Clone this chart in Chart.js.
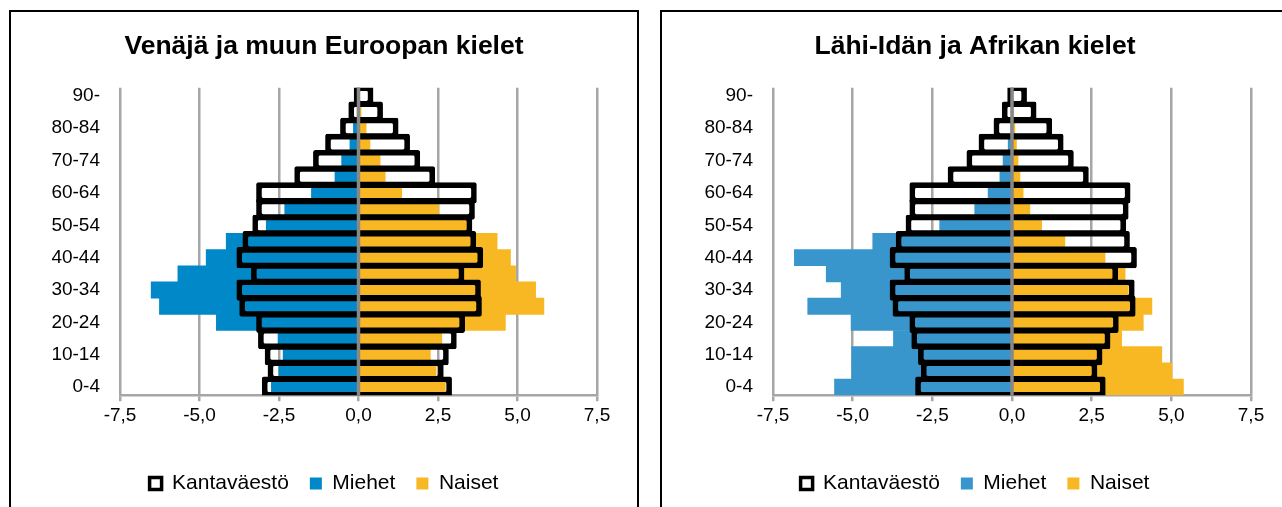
<!DOCTYPE html>
<html lang="fi">
<head>
<meta charset="utf-8">
<script src="https://cdn.jsdelivr.net/npm/chart.js@4.4.1/dist/chart.umd.min.js"></script>
<style>
  html, body { margin: 0; padding: 0; background: #fff; overflow: hidden; }
  body { width: 1282px; height: 507px; position: relative; }
  .kehys { position: absolute; top: 10px; width: 626px; height: 520px; border: 2px solid #000; }
  #kehys1 { left: 9px; }
  #kehys2 { left: 660px; }
  canvas { display: block; }
</style>
</head>
<body>
<div class="kehys" id="kehys1"><canvas id="euroChart" width="626" height="495"></canvas></div>
<div class="kehys" id="kehys2"><canvas id="afrChart" width="626" height="495"></canvas></div>
<script>
// Ikäryhmät alhaalta ylös
var ikaryhmat = ['0-4', '5-9', '10-14', '15-19', '20-24', '25-29', '30-34', '35-39', '40-44', '45-49',
                 '50-54', '55-59', '60-64', '65-69', '70-74', '75-79', '80-84', '85-89', '90-'];

// Kantaväestö (sama molemmissa kuvissa), % väestöstä
var kantaMiehet = [-2.96, -2.78, -2.87, -3.08, -3.14, -3.67, -3.76, -3.30, -3.76, -3.57,
                   -3.26, -3.14, -3.14, -1.94, -1.35, -0.97, -0.50, -0.24, -0.07];
var kantaNaiset = [2.86, 2.60, 2.76, 3.01, 3.27, 3.80, 3.77, 3.25, 3.84, 3.62,
                   3.50, 3.58, 3.64, 2.33, 1.86, 1.54, 1.18, 0.69, 0.39];

// Venäjä ja muun Euroopan kielet
var euroMiehet = [-2.74, -2.50, -2.37, -2.53, -4.47, -6.26, -6.52, -5.68, -4.79, -4.16,
                  -2.90, -2.32, -1.48, -0.74, -0.53, -0.27, -0.16, -0.04, -0.01];
var euroNaiset = [2.73, 2.44, 2.26, 2.62, 4.62, 5.83, 5.57, 4.94, 4.78, 4.36,
                  3.43, 2.52, 1.36, 0.84, 0.68, 0.36, 0.24, 0.08, 0.02];

// Lähi-Idän ja Afrikan kielet
var afrMiehet = [-5.57, -5.03, -5.03, -3.72, -5.05, -6.41, -5.36, -5.83, -6.83, -4.37,
                 -2.27, -1.17, -0.75, -0.38, -0.28, -0.12, -0.02, 0, 0];
var afrNaiset = [5.38, 5.02, 4.70, 3.44, 4.12, 4.39, 3.65, 3.55, 2.92, 1.66,
                 0.93, 0.56, 0.35, 0.25, 0.19, 0.14, 0.09, 0.02, 0];

var xTikit = [-7.5, -5, -2.5, 0, 2.5, 5, 7.5];

Chart.defaults.font.family = "'Liberation Sans', Arial, sans-serif";
Chart.defaults.color = '#000';

// Harmaa nollaviiva palkkien päälle
var nollaViiva = {
    id: 'nollaViiva',
    afterDatasetsDraw(chart) {
        var x = chart.scales.x.getPixelForValue(0);
        var area = chart.chartArea;
        var ctx = chart.ctx;
        ctx.save();
        ctx.strokeStyle = '#888888';
        ctx.lineWidth = 3.5;
        ctx.beginPath();
        ctx.moveTo(x, area.top);
        ctx.lineTo(x, area.bottom);
        ctx.stroke();
        ctx.restore();
    }
};

function piirraPyramidi(canvasId, otsikko, miehet, naiset, miesVari, vasenLeveys, oikeaLeveys) {
    var kanta = kantaMiehet.map((m, i) => [m, kantaNaiset[i]]);
    var ctx = document.getElementById(canvasId).getContext('2d');
    return new Chart(ctx, {
        type: 'bar',
        data: {
            labels: ikaryhmat,
            datasets: [
                {
                    label: 'Kantaväestö',
                    data: kanta,
                    backgroundColor: 'rgba(0,0,0,0)',
                    borderColor: '#000',
                    borderWidth: 0.6,
                    inflateAmount: 2.5,
                    borderSkipped: false,
                    borderRadius: 2,
                    grouped: false,
                    order: 0,
                    barPercentage: 1,
                    categoryPercentage: 1
                },
                {
                    label: 'Miehet',
                    data: miehet,
                    backgroundColor: miesVari,
                    borderWidth: 0,
                    grouped: false,
                    order: 1,
                    barPercentage: 1,
                    categoryPercentage: 1
                },
                {
                    label: 'Naiset',
                    data: naiset,
                    backgroundColor: '#f8b823',
                    borderWidth: 0,
                    grouped: false,
                    order: 1,
                    barPercentage: 1,
                    categoryPercentage: 1
                }
            ]
        },
        options: {
            indexAxis: 'y',
            responsive: false,
            animation: false,
            devicePixelRatio: 1,
            layout: { padding: { left: 0, right: 0, top: 0, bottom: 3 } },
            scales: {
                x: {
                    min: -7.5,
                    max: 7.5,
                    afterBuildTicks: s => { s.ticks = xTikit.map(v => ({ value: v })); },
                    ticks: {
                        callback: v => v.toFixed(1).replace('.', ','),
                        font: { size: 19 },
                        color: '#000',
                        padding: 3,
                        maxRotation: 0
                    },
                    grid: { color: '#a6a6a6', lineWidth: 2.5, tickLength: 6 },
                    border: { color: '#a6a6a6', width: 2.5 },
                    afterFit: s => { s.height += 22; }
                },
                y: {
                    reverse: true,
                    ticks: {
                        autoSkip: false,
                        callback: v => v % 2 === 0 ? ikaryhmat[v] : '',
                        font: { size: 19 },
                        color: '#000',
                        padding: 12
                    },
                    grid: { display: false },
                    border: { display: false },
                    afterFit: s => { s.width = vasenLeveys; }
                },
                // tyhjä tila oikealle, jotta otsikko ja selite pysyvät keskellä
                tyhja: {
                    type: 'category',
                    axis: 'y',
                    position: 'right',
                    ticks: { display: false },
                    grid: { display: false },
                    border: { display: false },
                    afterFit: s => { s.width = oikeaLeveys; }
                }
            },
            plugins: {
                title: {
                    display: true,
                    text: otsikko,
                    font: { size: 26.5, weight: 'bold' },
                    color: '#000',
                    padding: { top: 19, bottom: 25 }
                },
                legend: {
                    position: 'bottom',
                    labels: {
                        boxWidth: 12,
                        boxHeight: 12,
                        font: { size: 21 },
                        color: '#000',
                        padding: 21,
                        generateLabels: function (chart) {
                            var items = Chart.defaults.plugins.legend.labels.generateLabels(chart);
                            items.forEach(item => {
                                if (item.text === 'Kantaväestö') {
                                    item.fillStyle = '#fff';
                                    item.strokeStyle = '#000';
                                    item.lineWidth = 3.5;
                                } else {
                                    item.lineWidth = 0;
                                }
                            });
                            return items;
                        }
                    }
                },
                tooltip: { enabled: false }
            }
        },
        plugins: [nollaViiva]
    });
}

piirraPyramidi('euroChart', 'Venäjä ja muun Euroopan kielet', euroMiehet, euroNaiset, '#0088c8', 109, 40);
piirraPyramidi('afrChart', 'Lähi-Idän ja Afrikan kielet', afrMiehet, afrNaiset, '#3996cd', 111, 37);
</script>
</body>
</html>
